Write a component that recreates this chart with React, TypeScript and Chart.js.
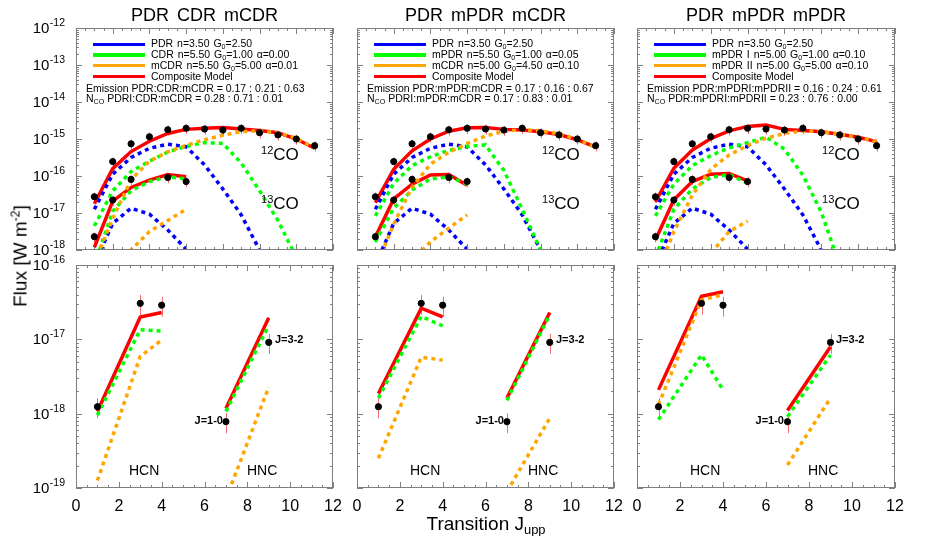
import React, { useEffect, useRef } from 'react';
import { Chart, registerables } from 'chart.js';

Chart.register(...registerables);

// ---------------- data ----------------
const co12J = [1, 2, 3, 4, 5, 6, 7, 8, 9, 10, 11, 12, 13];
const co13J = [1, 2, 3, 4, 5, 6];
const co13ObsJ = [1, 2, 3, 5, 6];
const hcnJ = [1, 3, 4];
const hncX = [7, 9]; // HNC J=1-0 and J=3-2 plotted at 7 and 9

// observations [W m^-2]
const co12Obs = [2.75e-17, 2.45e-16, 7.4e-16, 1.15e-15, 1.78e-15, 1.95e-15, 1.86e-15, 1.74e-15, 1.95e-15, 1.48e-15, 1.29e-15, 1.0e-15, 6.6e-16];
const co13Obs = [2.29e-18, 2.24e-17, 8.1e-17, 9.1e-17, 7.08e-17];
const hcnObs = [1.24e-18, 3.05e-17, 2.88e-17];
const hncObs = [7.8e-19, 9.1e-18];
// relative (linear) uncertainties
const co12Err = [0.3, 0.3, 0.3, 0.3, 0.3, 0.3, 0.3, 0.3, 0.3, 0.3, 0.3, 0.3, 0.3];
const co13Err = [0.3, 0.3, 0.3, 0.3, 0.3];
const hcnErr = [0.3, 0.3, 0.3];
const hncErr = [0.3, 0.3];

// PDR component (same in all three fits)
const pdrCO12 = [1.26e-17, 1.12e-16, 3.16e-16, 5.62e-16, 7.24e-16, 6.17e-16, 2.0e-16, 4.47e-17, 8.9e-18, 1.0e-18, 1.26e-19];
const pdrCO13 = [3.98e-19, 5.25e-18, 1.35e-17, 9.3e-18, 3.47e-18, 1.05e-18];

// Fit 1: PDR CDR mCDR
const c1RedCO12 = [1.78e-17, 1.58e-16, 4.57e-16, 8.71e-16, 1.41e-15, 1.82e-15, 1.95e-15, 2.04e-15, 1.86e-15, 1.7e-15, 1.48e-15, 1.0e-15, 5.62e-16];
const c1RedCO13 = [1.17e-18, 2.09e-17, 4.9e-17, 7.76e-17, 1.1e-16, 9.55e-17];
const c1GreenCO12 = [4.47e-18, 3.98e-17, 1.32e-16, 2.51e-16, 4.47e-16, 6.31e-16, 7.94e-16, 7.59e-16, 2.24e-16, 3.98e-17, 6.31e-18, 6.31e-19];
const c1GreenCO13 = [3.98e-19, 1.12e-17, 3.98e-17, 7.08e-17, 9.55e-17, 8.32e-17];
const c1OrangeCO12 = [4.47e-19, 7.08e-18, 7.94e-17, 2.51e-16, 4.47e-16, 6.76e-16, 9.55e-16, 1.26e-15, 1.58e-15, 1.66e-15, 1.48e-15, 1.05e-15, 5.62e-16];
const c1OrangeCO13 = [6.31e-20, 2.51e-19, 1.0e-18, 3.16e-18, 6.31e-18, 1.26e-17];
const c1RedHCN = [1.07e-18, 2.0e-17, 2.29e-17];
const c1GreenHCN = [9.55e-19, 1.35e-17, 1.29e-17];
const c1OrangeHCN = [1.26e-19, 5.89e-18, 9.77e-18];
const c1RedHNC = [1.17e-18, 1.95e-17];
const c1GreenHNC = [1.07e-18, 1.55e-17];
const c1OrangeHNC = [7.08e-20, 2.29e-18];

// Fit 2: PDR mPDR mCDR
const c2RedCO12 = [1.91e-17, 1.51e-16, 4.79e-16, 1.0e-15, 1.62e-15, 2.0e-15, 2.04e-15, 1.82e-15, 1.74e-15, 1.58e-15, 1.32e-15, 9.55e-16, 6.03e-16];
const c2RedCO13 = [2.24e-18, 2.4e-17, 6.03e-17, 1.07e-16, 1.1e-16, 5.62e-17];
const c2GreenCO12 = [8.32e-18, 6.31e-17, 1.91e-16, 3.31e-16, 4.9e-16, 6.31e-16, 6.92e-16, 1.41e-16, 1.26e-17, 1.0e-18, 1.0e-19];
const c2GreenCO13 = [1.66e-18, 1.35e-17, 4.17e-17, 8.32e-17, 9.55e-17, 6.03e-17];
const c2OrangeCO12 = [3.16e-19, 5.01e-18, 5.01e-17, 2.09e-16, 4.37e-16, 7.59e-16, 1.2e-15, 1.62e-15, 1.78e-15, 1.66e-15, 1.38e-15, 9.77e-16, 6.03e-16];
const c2OrangeCO13 = [3.16e-20, 1.26e-19, 5.01e-19, 1.66e-18, 3.89e-18, 8.91e-18];
const c2RedHCN = [1.86e-18, 2.63e-17, 2.0e-17];
const c2GreenHCN = [1.62e-18, 2.04e-17, 1.51e-17];
const c2OrangeHCN = [2.51e-19, 5.75e-18, 5.25e-18];
const c2RedHNC = [1.62e-18, 2.29e-17];
const c2GreenHNC = [1.51e-18, 2.14e-17];
const c2OrangeHNC = [8.91e-20, 8.71e-19];

// Fit 3: PDR mPDR mPDR
const c3RedCO12 = [2.0e-17, 1.62e-16, 5.01e-16, 1.02e-15, 1.66e-15, 2.19e-15, 2.4e-15, 1.82e-15, 1.7e-15, 1.58e-15, 1.35e-15, 1.12e-15, 8.51e-16];
const c3RedCO13 = [1.86e-18, 2.29e-17, 7.08e-17, 1.12e-16, 1.17e-16, 7.41e-17];
const c3GreenCO12 = [8.32e-18, 6.03e-17, 1.91e-16, 3.55e-16, 5.75e-16, 7.94e-16, 1.12e-15, 5.37e-16, 1.05e-16, 1.05e-17, 3.98e-19];
const c3GreenCO13 = [6.31e-19, 1.26e-17, 4.47e-17, 9.12e-17, 1.1e-16, 6.31e-17];
const c3OrangeCO12 = [1.58e-19, 3.16e-18, 3.02e-17, 1.51e-16, 3.72e-16, 6.61e-16, 1.05e-15, 1.41e-15, 1.66e-15, 1.58e-15, 1.35e-15, 1.12e-15, 8.51e-16];
const c3OrangeCO13 = [6.31e-21, 3.16e-20, 1.58e-19, 7.94e-19, 3.16e-18, 6.03e-18];
const c3RedHCN = [2.09e-18, 3.8e-17, 4.37e-17];
const c3GreenHCN = [8.32e-19, 6.17e-18, 2.09e-18];
const c3OrangeHCN = [1.32e-18, 3.39e-17, 3.98e-17];
const c3RedHNC = [1.1e-18, 7.94e-18];
const c3GreenHNC = [9.12e-19, 6.17e-18];
const c3OrangeHNC = [2.04e-19, 1.62e-18];

// axes / ticks / text
const topDecades = [-12, -13, -14, -15, -16, -17, -18];
const botDecades = [-16, -17, -18, -19];
const xTickValues = [0, 2, 4, 6, 8, 10, 12];
const titles = ['PDR CDR mCDR', 'PDR mPDR mCDR', 'PDR mPDR mPDR'];
const legendNames = [
  ['PDR', 'CDR', 'mCDR'],
  ['PDR', 'mPDR', 'mCDR'],
  ['PDR', 'mPDR I', 'mPDR II'],
];
const legendN = [
  ['3.50', '5.50', '5.50'],
  ['3.50', '5.50', '5.00'],
  ['3.50', '5.00', '5.00'],
];
const legendG0 = [
  ['2.50', '1.00', '5.00'],
  ['2.50', '1.00', '4.50'],
  ['2.50', '1.00', '5.00'],
];
const legendAlpha = [
  [null, '0.00', '0.01'],
  [null, '0.05', '0.10'],
  [null, '0.10', '0.10'],
];
const emissionText = [
  'Emission PDR:CDR:mCDR = 0.17 : 0.21 : 0.63',
  'Emission PDR:mPDR:mCDR = 0.17 : 0.16 : 0.67',
  'Emission PDR:mPDRI:mPDRII = 0.16 : 0.24 : 0.61',
];
const ncoText = [
  ' PDRI:CDR:mCDR = 0.28 : 0.71 : 0.01',
  ' PDRI:mPDR:mCDR = 0.17 : 0.83 : 0.01',
  ' PDR:mPDRI:mPDRII = 0.23 : 0.76 : 0.00',
];

const fits = [
  { red12: c1RedCO12, red13: c1RedCO13, green12: c1GreenCO12, green13: c1GreenCO13, orange12: c1OrangeCO12, orange13: c1OrangeCO13, redHCN: c1RedHCN, greenHCN: c1GreenHCN, orangeHCN: c1OrangeHCN, redHNC: c1RedHNC, greenHNC: c1GreenHNC, orangeHNC: c1OrangeHNC },
  { red12: c2RedCO12, red13: c2RedCO13, green12: c2GreenCO12, green13: c2GreenCO13, orange12: c2OrangeCO12, orange13: c2OrangeCO13, redHCN: c2RedHCN, greenHCN: c2GreenHCN, orangeHCN: c2OrangeHCN, redHNC: c2RedHNC, greenHNC: c2GreenHNC, orangeHNC: c2OrangeHNC },
  { red12: c3RedCO12, red13: c3RedCO13, green12: c3GreenCO12, green13: c3GreenCO13, orange12: c3OrangeCO12, orange13: c3OrangeCO13, redHCN: c3RedHCN, greenHCN: c3GreenHCN, orangeHCN: c3OrangeHCN, redHNC: c3RedHNC, greenHNC: c3GreenHNC, orangeHNC: c3OrangeHNC },
];

// ---------------- layout / style ----------------
const W = 926;
const H = 536;
const COL_L = [76, 357, 637];
const COL_R = [333, 614, 895];
const TOP_Y = [28, 250];
const BOT_Y = [265, 488];
const FONT = '"Liberation Sans", Arial, Helvetica, sans-serif';
const BLUE = '#0000ff';
const GREEN = '#00ff00';
const ORANGE = '#ffa500';
const RED = '#ff0000';
const FRAME = '#7f7f7f';
const ERR = '#f27070';

function pts(xs: number[], ys: number[]) {
  return ys.map((y, i) => ({ x: xs[i], y }));
}
function model(color: string, xs: number[], ys: number[], order: number) {
  return {
    data: pts(xs, ys), borderColor: color, backgroundColor: color, borderWidth: 3.5,
    borderDash: [4, 4], borderCapStyle: 'butt', pointRadius: 0, order, tension: 0, fill: false,
  };
}
function composite(xs: number[], ys: number[]) {
  return { data: pts(xs, ys), borderColor: RED, backgroundColor: RED, borderWidth: 3.5, pointRadius: 0, order: 9, tension: 0, fill: false };
}
function observed(xs: number[], ys: number[]) {
  return {
    data: pts(xs, ys), showLine: false, pointRadius: 3.1, pointStyle: 'circle',
    pointBackgroundColor: '#000', pointBorderColor: '#000', borderColor: '#000', pointBorderWidth: 1, order: 0,
  };
}

type ErrSet = { xs: number[]; ys: number[]; e: number[] };

function framePlugin(o: { xMax: number; decades: number[]; yLabels: boolean; xLabels: boolean; errs: ErrSet[] }) {
  return {
    id: 'idlFrame',
    beforeDatasetsDraw(chart: any) {
      const { ctx, scales } = chart;
      const x = scales.x, y = scales.y;
      ctx.save();
      ctx.strokeStyle = ERR;
      ctx.lineWidth = 1;
      o.errs.forEach((s) => s.ys.forEach((v, i) => {
        const px = Math.round(x.getPixelForValue(s.xs[i])) + 0.5;
        ctx.beginPath();
        ctx.moveTo(px, y.getPixelForValue(v * (1 + s.e[i])));
        ctx.lineTo(px, y.getPixelForValue(v * (1 - s.e[i])));
        ctx.stroke();
      }));
      ctx.restore();
    },
    afterDraw(chart: any) {
      const { ctx, chartArea: a, scales } = chart;
      const x = scales.x, y = scales.y;
      ctx.save();
      ctx.strokeStyle = FRAME;
      ctx.lineWidth = 1;
      ctx.strokeRect(a.left + 0.5, a.top + 0.5, a.right - a.left - 1, a.bottom - a.top - 1);
      ctx.beginPath();
      for (let v = 0; v <= o.xMax + 1e-9; v += 0.5) {
        const px = Math.round(x.getPixelForValue(v)) + 0.5;
        const len = Math.abs(v % 2) < 1e-9 ? 6 : 3;
        ctx.moveTo(px, a.top); ctx.lineTo(px, a.top + len);
        ctx.moveTo(px, a.bottom); ctx.lineTo(px, a.bottom - len);
      }
      const dmax = Math.max(...o.decades), dmin = Math.min(...o.decades);
      for (let k = dmin; k < dmax; k++) {
        for (let m = 1; m <= 9; m++) {
          const py = Math.round(y.getPixelForValue(m * Math.pow(10, k))) + 0.5;
          const len = m === 1 ? 6 : 3;
          ctx.moveTo(a.left, py); ctx.lineTo(a.left + len, py);
          ctx.moveTo(a.right, py); ctx.lineTo(a.right - len, py);
        }
      }
      ctx.stroke();
      ctx.fillStyle = '#000';
      if (o.yLabels) {
        o.decades.forEach((k) => {
          const py = y.getPixelForValue(Math.pow(10, k));
          const exp = String(k);
          ctx.font = `15px ${FONT}`;
          const wb = ctx.measureText('10').width;
          ctx.font = `10.5px ${FONT}`;
          const we = ctx.measureText(exp).width;
          const right = a.left - 11;
          ctx.textAlign = 'left';
          ctx.textBaseline = 'alphabetic';
          ctx.font = `15px ${FONT}`;
          ctx.fillText('10', right - we - wb - 0.5, py + 5);
          ctx.font = `10.5px ${FONT}`;
          ctx.fillText(exp, right - we, py - 2);
        });
      }
      if (o.xLabels) {
        ctx.font = `16px ${FONT}`;
        ctx.textAlign = 'center';
        ctx.textBaseline = 'alphabetic';
        xTickValues.forEach((v) => ctx.fillText(String(v), x.getPixelForValue(v), a.bottom + 23));
      }
      ctx.restore();
    },
  };
}

function baseOptions(c: number, yr: number[], xMax: number, yMin: number, yMax: number) {
  return {
    responsive: false,
    animation: false,
    events: [],
    layout: { padding: { left: COL_L[c], right: W - COL_R[c], top: yr[0], bottom: H - yr[1] } },
    scales: {
      x: { type: 'linear', min: 0, max: xMax, display: false },
      y: { type: 'logarithmic', min: yMin, max: yMax, display: false },
    },
    plugins: { legend: { display: false }, tooltip: { enabled: false }, title: { display: false } },
  };
}

function topConfig(c: number) {
  const f = fits[c];
  return {
    type: 'line',
    data: {
      datasets: [
        observed(co12J, co12Obs),
        observed(co13ObsJ, co13Obs),
        model(ORANGE, co12J, f.orange12, 1),
        model(ORANGE, co13J, f.orange13, 1),
        model(GREEN, co12J, f.green12, 2),
        model(GREEN, co13J, f.green13, 2),
        model(BLUE, co12J, pdrCO12, 3),
        model(BLUE, co13J, pdrCO13, 3),
        composite(co12J, f.red12),
        composite(co13J, f.red13),
      ],
    },
    options: baseOptions(c, TOP_Y, 14, Math.pow(10, topDecades[topDecades.length - 1]), Math.pow(10, topDecades[0])),
    plugins: [framePlugin({
      xMax: 14, decades: topDecades, yLabels: c === 0, xLabels: false,
      errs: [{ xs: co12J, ys: co12Obs, e: co12Err }, { xs: co13ObsJ, ys: co13Obs, e: co13Err }],
    })],
  };
}

function bottomConfig(c: number) {
  const f = fits[c];
  return {
    type: 'line',
    data: {
      datasets: [
        observed(hcnJ, hcnObs),
        observed(hncX, hncObs),
        model(ORANGE, hcnJ, f.orangeHCN, 1),
        model(ORANGE, hncX, f.orangeHNC, 1),
        model(GREEN, hcnJ, f.greenHCN, 2),
        model(GREEN, hncX, f.greenHNC, 2),
        composite(hcnJ, f.redHCN),
        composite(hncX, f.redHNC),
      ],
    },
    options: baseOptions(c, BOT_Y, 12, Math.pow(10, botDecades[botDecades.length - 1]), Math.pow(10, botDecades[0])),
    plugins: [framePlugin({
      xMax: 12, decades: botDecades, yLabels: c === 0, xLabels: true,
      errs: [{ xs: hcnJ, ys: hcnObs, e: hcnErr }, { xs: hncX, ys: hncObs, e: hncErr }],
    })],
  };
}

function PanelChart({ make }: { make: () => any }) {
  const ref = useRef<HTMLCanvasElement | null>(null);
  useEffect(() => {
    const chart = new Chart(ref.current as HTMLCanvasElement, make());
    return () => chart.destroy();
  }, []);
  return <canvas ref={ref} width={W} height={H} style={{ position: 'absolute', left: 0, top: 0, width: W, height: H }} />;
}

const Sub = ({ children }: { children: any }) => (
  <span style={{ fontSize: '0.68em', position: 'relative', top: '0.3em' }}>{children}</span>
);
const Sup = ({ children }: { children: any }) => (
  <span style={{ fontSize: '0.65em', position: 'relative', top: '-0.55em' }}>{children}</span>
);

function Label({ x, y, size, children, anchor = 'left', style }: { x: number; y: number; size: number; children: any; anchor?: string; style?: any }) {
  const tx = anchor === 'center' ? '-50%' : anchor === 'right' ? '-100%' : '0';
  return (
    <div style={{ position: 'absolute', left: x, top: y, fontSize: size, lineHeight: 1, whiteSpace: 'nowrap', transform: `translate(${tx}, -50%)`, ...style }}>
      {children}
    </div>
  );
}

const LEG_Y = [44.3, 55, 65.7, 76.3];
const LEG_COLORS = [BLUE, GREEN, ORANGE, RED];

function Legend({ c }: { c: number }) {
  const L = COL_L[c];
  const rows = [0, 1, 2].map((i) => (
    <Label key={i} x={L + 75} y={LEG_Y[i]} size={10.5} style={{ wordSpacing: '1px' }}>
      {legendNames[c][i]} n={legendN[c][i]} G<Sub>0</Sub>={legendG0[c][i]}
      {legendAlpha[c][i] !== null ? <> {'\u03b1'}={legendAlpha[c][i]}</> : null}
    </Label>
  ));
  return (
    <>
      {LEG_COLORS.map((col, i) => (
        <div key={'l' + i} style={{ position: 'absolute', left: L + 16.5, top: LEG_Y[i] - 1.75, width: 52.5, height: 3.5, background: col }} />
      ))}
      {rows}
      <Label x={L + 75} y={LEG_Y[3]} size={10.5}>Composite Model</Label>
      <Label x={L + 10} y={87.7} size={10.5}>{emissionText[c]}</Label>
      <Label x={L + 10} y={98.6} size={10.5}>N<Sub>CO</Sub>{ncoText[c]}</Label>
    </>
  );
}

export default function App() {
  return (
    <div style={{ position: 'fixed', left: 0, top: 0, width: W, height: H, background: '#fff', overflow: 'hidden', fontFamily: FONT, color: '#000' }}>
      {[0, 1, 2].map((c) => <PanelChart key={'t' + c} make={() => topConfig(c)} />)}
      {[0, 1, 2].map((c) => <PanelChart key={'b' + c} make={() => bottomConfig(c)} />)}
      {[0, 1, 2].map((c) => {
        const L = COL_L[c];
        const mid = (COL_L[c] + COL_R[c]) / 2;
        return (
          <React.Fragment key={'o' + c}>
            <Label x={mid} y={15} size={18} anchor="center" style={{ wordSpacing: '3px' }}>{titles[c]}</Label>
            <Legend c={c} />
            <Label x={L + 185} y={154} size={17}><Sup>12</Sup>CO</Label>
            <Label x={L + 185} y={203} size={17}><Sup>13</Sup>CO</Label>
            <Label x={L + 53} y={470} size={14}>HCN</Label>
            <Label x={L + 171} y={470} size={14}>HNC</Label>
            <Label x={L + 147} y={420} size={11} anchor="right" style={{ fontWeight: 'bold' }}>J=1-0</Label>
            <Label x={L + 199} y={339} size={11} style={{ fontWeight: 'bold' }}>J=3-2</Label>
          </React.Fragment>
        );
      })}
      <Label x={20} y={256} size={19} anchor="center" style={{ transform: 'translate(-50%, -50%) rotate(-90deg)' }}>
        Flux [W m<Sup>-2</Sup>]
      </Label>
      <Label x={486} y={523} size={19} anchor="center">
        Transition J<Sub>upp</Sub>
      </Label>
    </div>
  );
}
